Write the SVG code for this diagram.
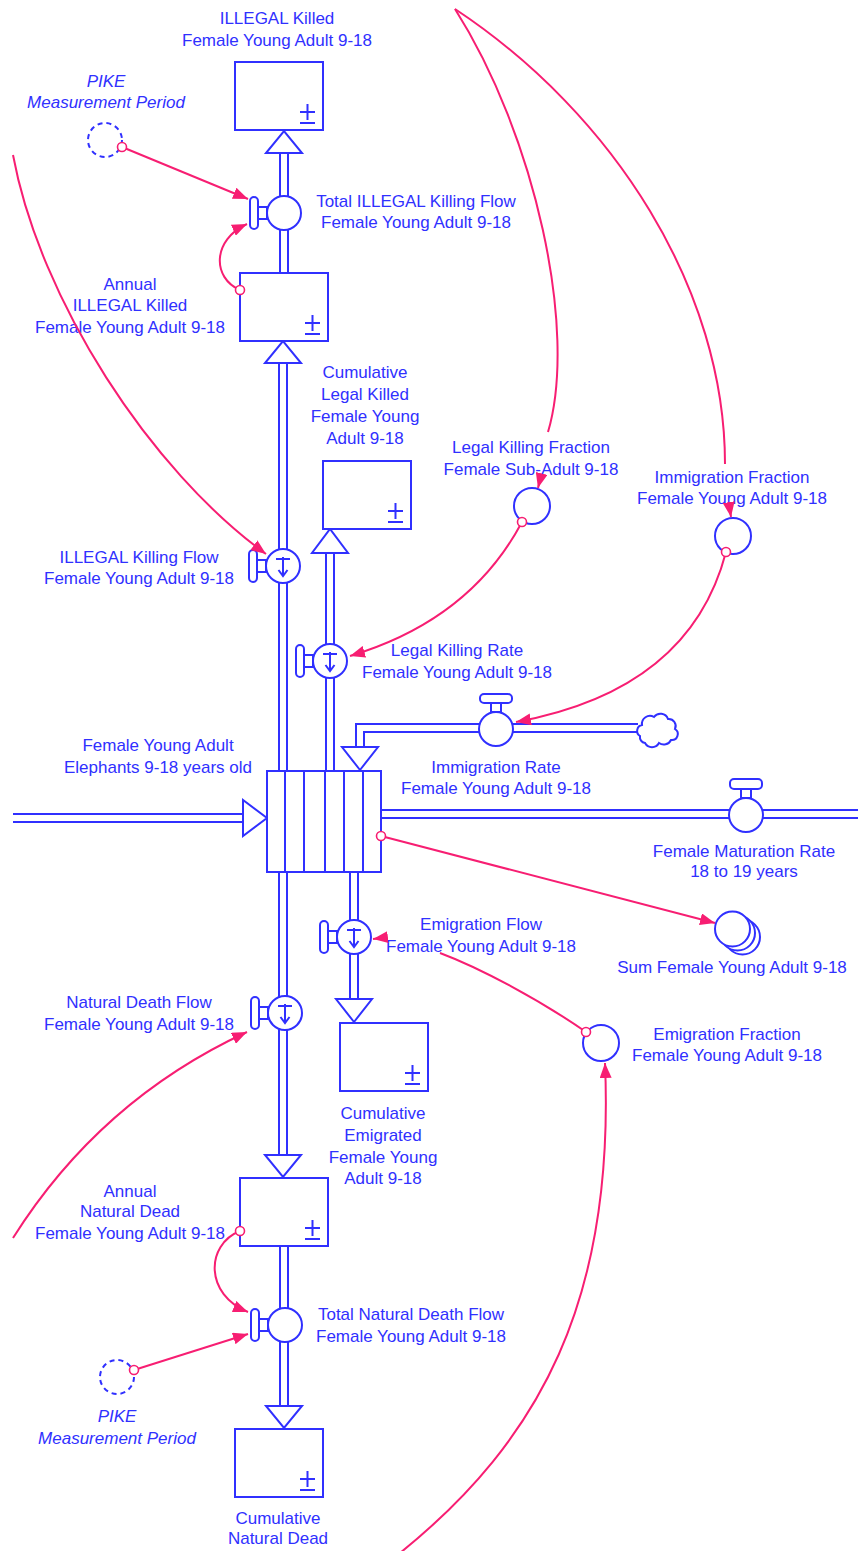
<svg xmlns="http://www.w3.org/2000/svg" width="858" height="1551" viewBox="0 0 858 1551">
<defs>
<style>
.t{font-family:"Liberation Sans",Arial,sans-serif;font-size:17px;fill:#3030ff;text-anchor:middle}
.it{font-style:italic}
.s{fill:#fff;stroke:#3030ff;stroke-width:2}
.n{fill:none;stroke:#3030ff;stroke-width:2}
.po{fill:none;stroke:#3030ff;stroke-width:10}
.pi{fill:none;stroke:#fff;stroke-width:6}
.c{fill:none;stroke:#f71e72;stroke-width:2;marker-end:url(#a)}
.d{fill:#fff;stroke:#f71e72;stroke-width:1.6}
.dash{fill:#fff;stroke:#3030ff;stroke-width:2;stroke-dasharray:5 4}
</style>
<marker id="a" viewBox="0 0 15 12" refX="15" refY="6" markerWidth="15" markerHeight="12" orient="auto" markerUnits="userSpaceOnUse"><path d="M0,0 L15,6 L0,12 z" fill="#f71e72"/></marker>
</defs>
<rect width="858" height="1551" fill="#fff"/>

<g id="pipes">
<path class="po" d="M284,273V153 M283,771V363 M330,771V553 M638,728H360V747 M381,814H858 M13,818H243 M283,872V1155 M354,872V999 M284,1247V1406"/>
<path class="pi" d="M284,273V153 M283,771V363 M330,771V553 M638,728H360V747 M381,814H858 M13,818H243 M283,872V1155 M354,872V999 M284,1247V1406"/>
<path class="s" d="M266,153L302,153L284,131z"/>
<path class="s" d="M265,363L301,363L283,341z"/>
<path class="s" d="M312,553L348,553L330,529z"/>
<path class="s" d="M342,747L378,747L360,770z"/>
<path class="s" d="M243,800L243,836L267,818z"/>
<path class="s" d="M265,1155L301,1155L283,1177z"/>
<path class="s" d="M336,999L372,999L354,1022z"/>
<path class="s" d="M266,1406L302,1406L284,1428z"/>
</g>

<g id="stock-main">
<rect class="s" x="267" y="771" width="114" height="101"/>
<path class="n" d="M285,771V872 M304,771V872 M325,771V872 M344,771V872 M363,771V872"/>
<text class="t" x="158" y="751">Female Young Adult</text>
<text class="t" x="158" y="773">Elephants 9-18 years old</text>
</g>

<g id="stock-illegal-killed">
<rect class="s" x="235" y="62" width="88" height="68"/>
<path class="n" d="M300,112H315 M307.5,104V120 M300,123H315"/>
<text class="t" x="277" y="24">ILLEGAL Killed</text>
<text class="t" x="277" y="46">Female Young Adult 9-18</text>
</g>

<g id="stock-annual-illegal">
<rect class="s" x="240" y="273" width="88" height="68"/>
<path class="n" d="M305,323H320 M312.5,315V331 M305,334H320"/>
<text class="t" x="130" y="290">Annual</text>
<text class="t" x="130" y="311">ILLEGAL Killed</text>
<text class="t" x="130" y="333">Female Young Adult 9-18</text>
</g>

<g id="stock-cum-legal">
<rect class="s" x="323" y="461" width="88" height="68"/>
<path class="n" d="M388,511H403 M395.5,503V519 M388,522H403"/>
<text class="t" x="365" y="378">Cumulative</text>
<text class="t" x="365" y="400">Legal Killed</text>
<text class="t" x="365" y="422">Female Young</text>
<text class="t" x="365" y="444">Adult 9-18</text>
</g>

<g id="stock-cum-emigrated">
<rect class="s" x="340" y="1023" width="88" height="68"/>
<path class="n" d="M405,1073H420 M412.5,1065V1081 M405,1084H420"/>
<text class="t" x="383" y="1119">Cumulative</text>
<text class="t" x="383" y="1141">Emigrated</text>
<text class="t" x="383" y="1163">Female Young</text>
<text class="t" x="383" y="1184">Adult 9-18</text>
</g>

<g id="stock-annual-natural">
<rect class="s" x="240" y="1178" width="88" height="68"/>
<path class="n" d="M305,1228H320 M312.5,1220V1236 M305,1239H320"/>
<text class="t" x="130" y="1197">Annual</text>
<text class="t" x="130" y="1217">Natural Dead</text>
<text class="t" x="130" y="1239">Female Young Adult 9-18</text>
</g>

<g id="stock-cum-natural">
<rect class="s" x="235" y="1429" width="88" height="68"/>
<path class="n" d="M300,1479H315 M307.5,1471V1487 M300,1490H315"/>
<text class="t" x="278" y="1524">Cumulative</text>
<text class="t" x="278" y="1544">Natural Dead</text>
</g>

<g id="flow-total-illegal">
<rect class="s" x="250" y="197" width="8" height="32" rx="4"/>
<rect class="s" x="258" y="207" width="9" height="12"/>
<circle class="s" cx="284" cy="213" r="17"/>
<text class="t" x="416" y="207">Total ILLEGAL Killing Flow</text>
<text class="t" x="416" y="228">Female Young Adult 9-18</text>
</g>

<g id="flow-illegal-killing">
<rect class="s" x="249" y="550" width="8" height="32" rx="4"/>
<rect class="s" x="257" y="560" width="9" height="12"/>
<circle class="s" cx="283" cy="566" r="17"/>
<path class="n" d="M276,559H290 M283,557V576 M278.5,570L283,576L287.5,570"/>
<text class="t" x="139" y="563">ILLEGAL Killing Flow</text>
<text class="t" x="139" y="584">Female Young Adult 9-18</text>
</g>

<g id="flow-legal-killing">
<rect class="s" x="296" y="645" width="8" height="32" rx="4"/>
<rect class="s" x="304" y="655" width="9" height="12"/>
<circle class="s" cx="330" cy="661" r="17"/>
<path class="n" d="M323,654H337 M330,652V671 M325.5,665L330,671L334.5,665"/>
<text class="t" x="457" y="656">Legal Killing Rate</text>
<text class="t" x="457" y="678">Female Young Adult 9-18</text>
</g>

<g id="flow-immigration">
<rect class="s" x="480" y="694" width="32" height="9" rx="4"/>
<rect class="s" x="491" y="703" width="10" height="9"/>
<circle class="s" cx="496" cy="729" r="17"/>
<path class="s" d="M640,736 a6,6 0 0,1 2,-11 a8,8 0 0,1 12,-8 a8,8 0 0,1 14,2 a7,7 0 0,1 7,10 a6,6 0 0,1 -4,11 a8,8 0 0,1 -12,3 a8,8 0 0,1 -14,0 a6,6 0 0,1 -5,-7z"/>
<text class="t" x="496" y="773">Immigration Rate</text>
<text class="t" x="496" y="794">Female Young Adult 9-18</text>
</g>

<g id="flow-maturation">
<rect class="s" x="730" y="779" width="32" height="10" rx="4"/>
<rect class="s" x="741" y="789" width="10" height="9"/>
<circle class="s" cx="746" cy="815" r="17"/>
<text class="t" x="744" y="857">Female Maturation Rate</text>
<text class="t" x="744" y="877">18 to 19 years</text>
</g>

<g id="flow-emigration">
<rect class="s" x="320" y="921" width="8" height="32" rx="4"/>
<rect class="s" x="328" y="931" width="9" height="12"/>
<circle class="s" cx="354" cy="937" r="17"/>
<path class="n" d="M347,930H361 M354,928V947 M349.5,941L354,947L358.5,941"/>
<text class="t" x="481" y="930">Emigration Flow</text>
<text class="t" x="481" y="952">Female Young Adult 9-18</text>
</g>

<g id="flow-natural-death">
<rect class="s" x="251" y="997" width="8" height="32" rx="4"/>
<rect class="s" x="259" y="1007" width="9" height="12"/>
<circle class="s" cx="285" cy="1013" r="17"/>
<path class="n" d="M278,1006H292 M285,1004V1023 M280.5,1017L285,1023L289.5,1017"/>
<text class="t" x="139" y="1008">Natural Death Flow</text>
<text class="t" x="139" y="1030">Female Young Adult 9-18</text>
</g>

<g id="flow-total-natural">
<rect class="s" x="251" y="1309" width="8" height="32" rx="4"/>
<rect class="s" x="259" y="1319" width="9" height="12"/>
<circle class="s" cx="285" cy="1325" r="17"/>
<text class="t" x="411" y="1320">Total Natural Death Flow</text>
<text class="t" x="411" y="1342">Female Young Adult 9-18</text>
</g>

<g id="aux-pike-top">
<circle class="dash" cx="105" cy="140" r="17"/>
<text class="t it" x="106" y="87">PIKE</text>
<text class="t it" x="106" y="108">Measurement Period</text>
</g>

<g id="aux-pike-bottom">
<circle class="dash" cx="117" cy="1377" r="17"/>
<text class="t it" x="117" y="1422">PIKE</text>
<text class="t it" x="117" y="1444">Measurement Period</text>
</g>

<g id="aux-legal-fraction">
<circle class="s" cx="532" cy="506" r="18"/>
<text class="t" x="531" y="453">Legal Killing Fraction</text>
<text class="t" x="531" y="475">Female Sub-Adult 9-18</text>
</g>

<g id="aux-immigration-fraction">
<circle class="s" cx="733" cy="536" r="18"/>
<text class="t" x="732" y="483">Immigration Fraction</text>
<text class="t" x="732" y="504">Female Young Adult 9-18</text>
</g>

<g id="aux-sum">
<circle class="s" cx="742.5" cy="937" r="17.5"/>
<circle class="s" cx="737.5" cy="933" r="17.5"/>
<circle class="s" cx="732.5" cy="929" r="17.5"/>
<text class="t" x="732" y="973">Sum Female Young Adult 9-18</text>
</g>

<g id="aux-emigration-fraction">
<circle class="s" cx="601" cy="1043" r="18"/>
<text class="t" x="727" y="1040">Emigration Fraction</text>
<text class="t" x="727" y="1061">Female Young Adult 9-18</text>
</g>

<g id="connectors">
<path class="c" d="M122,147L248,199"/>
<path class="c" d="M240,290C212,278 212,240 247,224"/>
<path class="c" d="M13,155C40,300 150,470 266,554"/>
<path class="c" d="M455,9C535,135 578,330 548,432M541,476L538,488"/>
<path class="c" d="M455,9C615,115 725,290 725,464M729,504L731,517"/>
<path class="c" d="M522,522Q470,620 350,656"/>
<path class="c" d="M726,552Q690,690 516,722"/>
<path class="c" d="M381,836L715,923"/>
<path class="c" d="M586,1032C540,1000 480,968 440,953M381,938L373,939"/>
<path class="c" d="M13,1238Q100,1100 247,1032"/>
<path class="c" d="M240,1231C205,1245 205,1295 248,1312"/>
<path class="c" d="M134,1370L248,1334"/>
<path class="c" d="M400,1553C540,1440 615,1300 605,1063"/>
<circle class="d" cx="122" cy="147" r="4.5"/>
<circle class="d" cx="240" cy="290" r="4.5"/>
<circle class="d" cx="522" cy="522" r="4.5"/>
<circle class="d" cx="726" cy="552" r="4.5"/>
<circle class="d" cx="381" cy="836" r="4.5"/>
<circle class="d" cx="586" cy="1032" r="4.5"/>
<circle class="d" cx="240" cy="1231" r="4.5"/>
<circle class="d" cx="134" cy="1370" r="4.5"/>
</g>
</svg>
